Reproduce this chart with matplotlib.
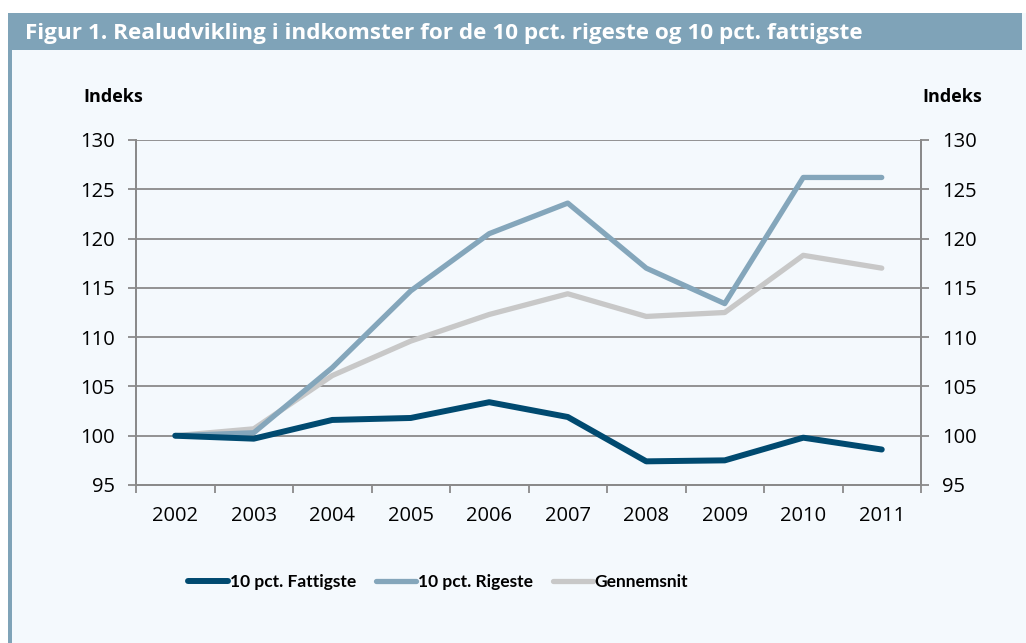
import matplotlib.pyplot as plt
from matplotlib.patches import Rectangle

plt.rcParams['font.family'] = ['Open Sans', 'DejaVu Sans']

# data (index, 2002 = 100)
years = ['2002', '2003', '2004', '2005', '2006', '2007', '2008', '2009', '2010', '2011']
fattigste = [100.0, 99.7, 101.6, 101.8, 103.4, 101.9, 97.4, 97.5, 99.8, 98.6]
rigeste = [100.0, 100.3, 106.9, 114.7, 120.5, 123.6, 117.0, 113.4, 126.2, 126.2]
gennemsnit = [100.0, 100.7, 106.1, 109.6, 112.3, 114.4, 112.1, 112.5, 118.3, 117.0]
y_ticks = [95, 100, 105, 110, 115, 120, 125, 130]

title = 'Figur 1. Realudvikling i indkomster for de 10 pct. rigeste og 10 pct. fattigste'
labels = ['10 pct. Fattigste', '10 pct. Rigeste', 'Gennemsnit']
colors = ['#004a70', '#84a6bb', '#c8c8c8']
bg = '#f4f9fd'
frame = '#7fa3b8'
axis_col = '#8a8a8a'

W, H = 1026, 643
fig = plt.figure(figsize=(W / 100, H / 100), dpi=100)
fig.patch.set_facecolor('white')

# baggrund, venstre kant og titelbjælke
fig.add_artist(Rectangle((8 / W, 0), 1 - 8 / W, 1 - 13 / H, transform=fig.transFigure,
                         facecolor=bg, edgecolor='none', zorder=-3))
fig.add_artist(Rectangle((8 / W, 0), 4 / W, 1 - 13 / H, transform=fig.transFigure,
                         facecolor=frame, edgecolor='none', zorder=-2))
fig.add_artist(Rectangle((8 / W, 1 - 50 / H), 1014 / W, 37 / H, transform=fig.transFigure,
                         facecolor=frame, edgecolor='none', zorder=-2))
fig.text(25 / W, 1 - 33 / H, title, color='white', fontsize=16.2, fontweight='bold',
         ha='left', va='center')

ax = fig.add_axes([136 / W, 1 - 485 / H, 785 / W, 345 / H])
ax.set_facecolor('none')
x = list(range(len(years)))

ax.plot(x, gennemsnit, color=colors[2], lw=3.8, solid_capstyle='round', label=labels[2], zorder=3)
ax.plot(x, rigeste, color=colors[1], lw=3.8, solid_capstyle='round', label=labels[1], zorder=4)
ax.plot(x, fattigste, color=colors[0], lw=4.3, solid_capstyle='round', label=labels[0], zorder=5)

ax.set_xlim(-0.5, len(years) - 0.5)
ax.set_ylim(95, 130)
ax.set_yticks(y_ticks)
ax.set_xticks(x)
ax.set_xticklabels(years)
ax.set_xticks([i - 0.5 for i in range(len(years) + 1)], minor=True)
ax.tick_params(axis='x', which='major', length=0, pad=15, labelsize=14.5)
ax.tick_params(axis='x', which='minor', length=6, width=1.3, color=axis_col)
ax.tick_params(axis='y', length=6, width=1.3, color=axis_col, labelsize=14.5, pad=9)
ax.grid(axis='y', color=axis_col, lw=1.3, zorder=1)
ax.set_axisbelow(True)
for s in ['left', 'right', 'bottom']:
    ax.spines[s].set_color(axis_col)
    ax.spines[s].set_linewidth(1.3)
ax.spines['top'].set_visible(False)

ax2 = ax.twinx()
ax2.set_ylim(95, 130)
ax2.set_yticks(y_ticks)
ax2.tick_params(axis='y', length=6, width=1.3, color=axis_col, labelsize=14.5, pad=9)
for s in ['left', 'right', 'bottom']:
    ax2.spines[s].set_color(axis_col)
    ax2.spines[s].set_linewidth(1.3)
ax2.spines['top'].set_visible(False)

fig.text(83 / W, 1 - 97 / H, 'Indeks', fontsize=13, fontweight='bold', ha='left', va='center')
fig.text(982 / W, 1 - 97 / H, 'Indeks', fontsize=13, fontweight='bold', ha='right', va='center')

h, l = ax.get_legend_handles_labels()
order = [2, 1, 0]
leg = fig.legend([h[i] for i in order], [l[i] for i in order], loc='center',
                 bbox_to_anchor=(438 / W, 1 - 582 / H), ncol=3, frameon=False,
                 handlelength=2.3, handletextpad=0.12, columnspacing=1.15,
                 prop={'family': 'Lato', 'size': 12.5, 'weight': 'bold'})

fig.savefig('out.png', dpi=100, facecolor=fig.get_facecolor())
